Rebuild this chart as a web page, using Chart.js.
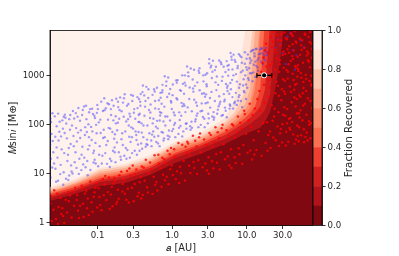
<!DOCTYPE html>
<html><head><meta charset="utf-8">
<script src="https://cdn.jsdelivr.net/npm/chart.js@4"></script>
<style>html,body{margin:0;padding:0;background:#fff}canvas{position:absolute;left:0;top:0}#w{position:relative;width:399px;height:256px}</style>
</head><body><div id="w"><canvas id="c1" width="399" height="256"></canvas><canvas id="c2" width="399" height="256"></canvas></div>
<script>
const xTickValues=[0.1,0.3,1,3,10,30];
const xTickLabels=["0.1","0.3","1.0","3.0","10.0","30.0"];
const yTickValues=[1,10,100,1000];
const yMinorTicks=[2,3,4,5,6,7,8,9,20,30,40,50,60,70,80,90,200,300,400,500,600,700,800,900,2000,3000,4000,5000,6000,7000,8000];
const cbarTicks=[0,0.2,0.4,0.6,0.8,1];
const cbarTitle="Fraction Recovered";
const levelColors=["#7f0811","#b11319","#d22020","#f03f2e","#fb7050","#fc8d6d","#fcab8f","#fdc7b0","#fee2d5","#fff2ec"];
const contourA=[0.0231,0.05,0.108,0.233,0.505,1.09,2.36,5.09,6.9,9.45,11,12.8,15,17.4,20.4,23.8,27.7,32.3,75.5];
const level90=[5.3,7.7,13,15.6,23.8,44,67,135,316,8000,20000,20000,20000,20000,20000,20000,20000,20000,20000];
const level80=[4.8,7,11.8,14.2,20.7,40,58,112,180,460,3310,20000,20000,20000,20000,20000,20000,20000,20000];
const level70=[4.4,6.4,10.7,13,18.9,36.4,53,98,149,262,506,7300,20000,20000,20000,20000,20000,20000,20000];
const level60=[4.2,6.1,9.8,11.8,17.2,33,48,85,123,197,288,810,13000,20000,20000,20000,20000,20000,20000];
const level50=[4,5.8,8.9,10.7,15.6,30,44,77,107,163,217,506,6650,20000,20000,20000,20000,20000,20000];
const level40=[3.8,5.3,8.1,9.8,14.2,26,40,70,93,135,171,228,506,13000,20000,20000,20000,20000,20000];
const level30=[3.47,4.8,7.4,8.9,13,23.8,36.4,61,81,112,135,171,228,506,10800,20000,20000,20000,20000];
const level20=[3.16,4.4,6.7,7.7,11.2,20.7,31.5,50.5,64,89,102,123,149,197,400,6650,20000,20000,20000];
const level10=[2.75,3.8,5.55,6.4,9.3,16.4,25,40,50.5,64,70,77,85,112,180,506,1900,17000,20000];
const planetA=[17];
const planetM=[1000];
const planetErrA=[13.6,21.5];
const bluePairs=[
[.0235,8.3],[.0412,33],[.0268,146],[.0347,5.9],[.0291,21],[.0381,104],[.0242,64],[.0316,9.7],[.0443,14.6],[.0256,27],[.0365,158],[.0301,47],[.0428,78],[.0279,6.8],[.0338,121],[.0232,39],[.0395,18],[.0284,92],[.0449,11],[.0325,57],[.0249,169],[.0358,26],[.0406,7.4],[.0273,12.5],[.0308,71],[.0437,40],[.0262,16],[.0372,137],[.0239,112],[.0331,31],[.0389,52],[.0297,166],[.0418,128],[.0352,10.6],[.0237,20],
[.0463,10],[.0781,37],[.0554,216],[.0692,13.4],[.0517,84],[.0867,163],[.0612,24],[.0476,58],[.0738,9.2],[.0583,119],[.0833,48],[.0659,231],[.0495,17],[.0719,70],[.0896,29],[.0541,144],[.0627,35],[.0803,11.8],[.0468,188],[.0754,101],[.0571,20],[.0678,61],[.0846,208],[.0529,45],[.0643,15.3],[.0507,27],[.0771,177],[.0598,76],[.0885,16.7],[.0486,132],[.0703,240],[.0561,9.8],[.0819,89],[.0634,197],[.0745,31],
[.0938,42],[.153,18],[.112,291],[.171,63],[.102,14],[.138,125],[.0981,172],[.161,29],[.121,78],[.178,333],[.107,36],[.146,13.5],[.129,214],[.0957,98],[.167,51],[.116,23],[.142,258],[.0915,19],[.175,147],[.125,55],[.156,312],[.104,110],[.134,15.7],[.118,187],[.169,34],[.148,82],[.0992,248],[.127,26],[.163,121],[.11,67],[.174,17],[.137,46],[.0924,135],[.151,205],[.123,340],
[.193,27],[.306,173],[.231,412],[.348,39],[.214,66],[.271,21],[.187,108],[.323,72],[.248,240],[.359,330],[.206,19],[.289,55],[.224,143],[.337,24],[.262,95],[.197,197],[.298,384],[.239,33],[.353,112],[.219,278],[.277,44],[.183,76],[.315,29],[.256,128],[.343,215],[.201,355],[.283,87],[.228,23],[.33,61],[.268,165],[.209,50],[.292,300],[.244,20],[.356,155],[.189,225],
[.384,41],[.592,212],[.451,583],[.678,36],[.412,95],[.523,47],[.367,165],[.627,118],[.478,345],[.695,440],[.396,32],[.556,72],[.433,230],[.651,58],[.504,135],[.373,289],[.571,520],[.461,49],[.684,178],[.422,390],[.537,62],[.364,112],[.612,44],[.489,196],[.663,310],[.405,620],[.548,105],[.441,35],[.639,83],[.513,255],[.391,68],[.583,470],[.467,38],[.689,152],[.378,415],
[.752,68],[1.17,322],[.883,905],[1.36,57],[.806,145],[1.03,81],[.721,263],[1.24,176],[.94,528],[1.39,670],[.777,52],[1.09,107],[.856,362],[1.29,93],[.987,206],[.733,451],[1.13,790],[.905,75],[1.33,275],[.829,610],[1.06,98],[.714,172],[1.21,64],[.961,300],[1.31,483],[.794,960],[1.08,154],[.87,59],[1.26,123],[1.01,395],[.763,115],[1.15,710],[.92,56],[1.37,234],[.741,640],
[1.52,103],[2.33,495],[1.77,1380],[2.72,88],[1.61,222],[2.06,127],[1.44,420],[2.48,268],[1.88,825],[2.79,1030],[1.55,82],[2.18,168],[1.71,565],[2.58,142],[1.97,318],[1.47,710],[2.26,1240],[1.81,113],[2.66,430],[1.65,960],[2.12,150],[1.42,262],[2.41,98],[1.92,465],[2.62,755],[1.58,1510],[2.15,240],[1.74,92],[2.52,190],[2.01,610],[1.5,178],[2.3,1120],[1.84,85],[2.75,365],[1.48,1000],
[3.04,165],[4.62,770],[3.51,1990],[5.37,140],[3.2,345],[4.08,200],[2.88,660],[4.9,415],[3.73,1280],[5.48,1560],[3.09,133],[4.31,262],[3.39,880],[5.09,220],[3.9,500],[2.93,1100],[4.47,1850],[3.58,178],[5.24,665],[3.27,1450],[4.19,235],[2.84,410],[4.77,155],[3.8,720],[5.16,1170],[3.13,2140],[4.26,375],[3.44,145],[4.98,295],[3.96,945],[2.98,280],[4.55,1690],[3.64,138],[5.42,560],[3.33,1580],
[5.9,255],[8.33,1160],[6.62,2640],[9.72,330],[6.1,520],[7.61,305],[5.62,985],[8.9,620],[7.03,1880],[9.91,2180],[5.98,240],[7.92,395],[6.41,1320],[9.26,450],[7.34,745],[5.71,1620],[8.1,2500],[6.78,270],[9.51,1000],[6.25,2090],[7.77,360],[5.53,615],[8.62,225],[7.15,1060],[9.38,1720],[6.04,2850],[7.86,560],[6.53,210],[9.05,835],[7.48,1400],[5.79,420],[8.44,2350],[6.9,290],[9.84,1470],[6.33,810],
[10.4,870],[12.7,2450],[11.3,3050],[14.9,3350],[10.1,560],[13.3,1560],[11.9,760],[16.2,2780],[10.7,1400],[15.4,1910],[12.1,3300],[13.9,2050],[11.5,1100],[17.3,3150],[14.1,1240],[10.9,2230],[16.8,2170],[12.9,930],[18.4,2600],[15.8,3480],[11.1,1780],[13.1,3420],[14.6,2700],[12.4,1650],[17.9,3600],
[35,6200],[41,3300],[28,4300],[46,2600],[33,1700],[52,5100],[38,7400],[30,2800],[44,1300],[24,3600],[58,3700],[26,5400]];
const blueMorePairs=[
[.0247,13.2],[.0296,7.1],[.0344,82],[.0402,24],[.0251,46],[.0363,67],[.0432,155],[.0283,34],[.0321,15],[.0378,7.8],[.0234,132],[.0417,9.1],[.0272,56],[.0311,113],[.0353,143],[.0455,95],[.0481,36],[.0523,13],[.0586,53],[.0622,155],[.0665,21],[.0711,128],[.0767,55],[.0512,170],[.0549,68],[.0607,11.7],[.0684,88],[.0729,18],[.0794,205],[.0852,72],[.0877,26],[.0906,150],[.0945,16],[.0973,66],[.101,205],[.105,24],[.109,125],[.114,16],[.119,53],[.124,195],[.131,38],[.136,270],[.141,85],[.147,20],[.152,155],[.158,70],[.164,240],[.17,27],[.176,105],[.182,43],[.188,290],[.195,130],[.203,22],[.21,185],[.218,38],[.226,340],[.235,72],[.242,115],[.251,30],[.259,260],[.266,56],[.274,145],[.281,400],[.29,26],[.3,82],[.31,205],[.32,130],[.332,48],[.342,360],[.354,70],[.365,29],[.375,240],[.388,105],[.399,455],[.41,55],[.425,150],[.438,300],[.452,40],[.465,95],[.48,520],[.495,66],[.51,175],[.528,36],[.545,400],[.56,130],[.575,56],[.59,300],[.605,90],[.625,560],[.645,41],[.66,205],[.68,120],[.7,350],[.72,70],[.74,500],[.765,47],[.785,230],[.81,95],[.835,750],[.86,145],[.885,50],[.91,420],[.935,120],[.97,280],[.995,73],[1.02,650],[1.05,175],[1.1,55],[1.14,340],[1.18,800],[1.23,85],[1.27,500],[1.32,150],[1.36,1000],[1.41,72],[1.46,240],[1.51,620],[1.56,105],[1.63,1150],[1.69,330],[1.76,78],[1.83,185],[1.9,540],[1.96,1300],[2.03,115],[2.09,280],[2.17,720],[2.24,88],[2.32,1400],[2.4,185],[2.5,420],[2.6,1000],[2.69,130],[2.8,270],[2.9,600],[3,105],[3.12,1750],[3.22,220],[3.35,460],[3.46,1180],[3.6,125],[3.72,300],[3.85,1500],[4,165],[4.13,640],[4.25,2000],[4.4,290],[4.58,150],[4.72,940],[4.88,1500],[5.05,320],[5.2,190],[5.35,1950],[5.5,480],[5.68,1300],[5.85,210],[6,700],[6.2,2400],[6.4,360],[6.6,1000],[6.85,2050],[7.1,440],[7.3,250],[7.55,1550],[7.8,2700],[8.05,660],[8.3,300],[8.55,1800],[8.8,1250],[9.1,480],[9.4,2950],[9.7,650],[10,1300],[10.3,2650],[10.6,800],[11,1100],[11.4,2000],[11.8,3200],[12.2,1150],[12.6,2800],[13,1900],[13.4,3500],[13.9,1450],[14.4,2250],[15,2800],[15.7,3600],[16.4,1700],[17,2500],[17.7,2000],[18.2,3000]];
const redPairs=[
[.0243,1.07],[.0411,2.72],[.0289,3.88],[.0346,1.36],[.0257,1.83],[.0471,4.31],[.0318,3.16],[.0234,2.45],[.0392,1.61],[.0277,1.18],[.0359,.98],[.0263,4.55],[.0428,3.55],[.0301,2.08],[.0375,2.91],[.0238,3.45],[.0449,1.26],[.0328,1.49],[.0294,.93],[.0486,2.2],[.0404,4.1],[.0337,1.95],
[.0527,2.87],[.0763,1.42],[.0612,5.63],[.0889,3.37],[.0548,1.73],[.0705,4.42],[.0968,6.35],[.0584,2.21],[.0831,2.58],[.0651,1.29],[.0936,5.04],[.0679,3.92],[.0502,5.1],[.0798,6.82],[.0566,1.24],[.0741,3.1],[.0857,1.66],[.0624,4.95],[.0993,2.02],[.0721,1.95],[.0909,4.15],[.0534,3.64],[.0638,2.42],
[.106,3.31],[.159,2.14],[.124,5.97],[.187,4.66],[.113,1.78],[.142,8.3],[.171,7.06],[.131,2.83],[.196,9.2],[.103,4.97],[.151,3.72],[.118,7.7],[.178,2.39],[.137,4.18],[.164,6.14],[.109,2.27],[.146,1.88],[.192,3.05],[.127,8.85],[.155,5.33],[.183,2.65],[.121,3.6],[.168,8.1],
[.215,4.28],[.318,9.75],[.243,2.92],[.367,6.66],[.267,12.6],[.226,7.35],[.343,3.42],[.289,5.12],[.391,13.9],[.208,10.9],[.304,2.73],[.254,4.9],[.33,12.1],[.232,3.87],[.378,8.44],[.275,8.95],[.218,6.08],[.357,4.03],[.296,14.6],[.248,11.2],[.315,6.1],[.385,3.1],[.262,2.55],
[.427,7.1],[.633,4.52],[.505,16.7],[.752,9.4],[.461,5.26],[.58,23.4],[.696,12.9],[.415,13.3],[.544,3.83],[.781,19.6],[.483,10.2],[.615,6.71],[.718,5.36],[.443,19.1],[.566,8.55],[.664,15.8],[.522,12],[.798,7.3],[.403,3.62],[.651,24.2],[.592,5.9],[.474,4.1],[.735,21],
[.843,8.61],[1.27,13.7],[.962,33],[1.48,7.2],[1.08,21.8],[.892,6.05],[1.36,38.5],[1.16,11.1],[.81,16.4],[1.55,26.3],[1.02,9.33],[1.21,42],[.925,24.7],[1.42,17.9],[1.12,7.75],[.865,28.9],[1.31,10.1],[.987,14.6],[1.59,44.1],[1.06,31.2],[1.24,6.4],[.94,12.2],[1.51,35],
[1.68,14.3],[2.44,26.8],[1.89,58.6],[2.91,11.5],[2.11,35.4],[1.75,10.2],[2.67,49.3],[2.23,18.7],[1.63,41],[3.06,21.3],[1.97,12.9],[2.36,65],[1.83,29.5],[2.78,16],[2.15,9.7],[1.71,23.9],[3.15,66.8],[2.03,46.7],[2.55,13.4],[1.93,17.2],[2.85,38.2],[2.29,55],[3.1,9.9],
[3.41,17.8],[4.87,39.2],[3.79,88],[5.83,14.6],[4.23,52.7],[3.55,12.6],[5.33,76],[4.48,27.1],[3.28,61],[6.12,31],[3.97,16.5],[4.71,98],[3.64,43.5],[5.55,22.1],[4.33,12.1],[3.46,35.6],[6.31,101],[4.06,69.3],[5.09,19.4],[3.88,24.8],[5.71,57.7],[4.59,83],[6.22,13],
[6.83,21.4],[9.72,64.1],[7.56,145],[11.7,19.2],[8.44,82.8],[7.09,16.3],[10.6,121],[8.97,37.9],[6.55,95],[12.3,47.5],[7.93,24.7],[9.36,162],[7.31,68.2],[11.1,29.3],[8.66,15.7],[6.94,54.3],[12.8,210],[8.13,108],[10.2,26.5],[7.75,32.8],[11.4,88.7],[9.18,190],[12.6,24.3],[10.9,265],[11.9,155],
[13.4,30.2],[15.7,22.9],[14.3,72.5],[17.8,41.6],[16.5,105],[18.9,29],[13.8,330],[15.1,190],[16.9,640],[14.7,480],[19.3,61],[17.2,280],[15.5,1180],[18.2,1520],[16.1,1780],[19.7,800],[17.5,3250],[18.6,110],[19.1,2900],[16.7,2300],[18,4400],[19.5,370],[17,900],
[20.7,33.2],[24.3,47.6],[27.9,66],[22.1,118],[30.6,158],[25.6,91],[21.4,245],[28.8,312],[23.4,208],[31.4,470],[26.7,385],[20.2,560],[29.7,42.8],[24.9,740],[22.8,920],[27.1,1190],[31.1,1430],[21.9,1850],[25.2,2240],[30.1,2610],[23.7,3380],[28.2,4120],[26.1,5260],[20.9,6150],[31.8,7500],[29.1,6890],[22.4,4850],[24.6,2950],[27.5,1690],[21.1,1040],[30.4,830],[25.9,610],[23.1,145],[28.5,81],[20.4,72],[26.4,176],[31.7,224],[22.6,54],[29.4,520],[24.1,430],[27.7,2020],[23.9,1310],[21.7,3750],[30.9,3020],[25.4,6600],[28.9,5100],[26.9,36.5],[22.9,7800],[20.5,1600],[29.9,101],
[33.2,37.1],[41.7,62.4],[36.5,129],[45.3,49],[34.6,205],[39.8,283],[47.1,95],[32.4,418],[43.2,356],[37.6,590],[46.2,672],[35.3,860],[40.9,1075],[33.9,1280],[44.4,1540],[38.7,1960],[47.7,2380],[32.8,2710],[42.3,3190],[36.9,3900],[45.9,4590],[34.2,5420],[41.1,6300],[39.1,7150],[43.8,7920],[37.2,84],[46.7,166],[33.6,71],[40.3,112],[35.8,44.3],[44.9,232],[38.2,135],[42.9,506],[32.1,780],[47.3,945],[36.1,1690],[41.4,2140],[34.9,3420],[45.1,4900],[39.4,6900],[33.1,5800],[43.5,40.1],[37.9,78],[46.4,330],[35.5,1180],[40.6,2480],[42.1,800],[38.9,455],[44.1,640],[32.7,150],[47.9,58],[36.7,2900],[41,4300],[34.4,106],[45.6,1420],
[49.3,45.6],[63.1,68.7],[55.4,122],[71.2,52.3],[52.1,194],[59.6,263],[68.4,98],[50.2,401],[65.3,342],[57.2,549],[73.6,615],[53.7,890],[61.4,1020],[48.8,1230],[69.7,1470],[56.3,1810],[74.1,2290],[51.5,2630],[64.2,3050],[58.8,3670],[72.3,4430],[54.9,5180],[66.8,6040],[60.5,6720],[70.4,7660],[49.9,87],[62.7,158],[53.1,60.2],[67.6,116],[58.1,43.4],[74.8,215],[50.8,138],[61.9,480],[56.9,735],[72.9,980],[48.3,1600],[65.9,2040],[54.2,3310],[69.1,4780],[59.2,7050],[51.1,5560],[64.7,47.1],[57.7,79.3],[70.9,300],[52.9,1120],[63.6,2550],[68.9,770],[55.9,430],[73.1,660],[49.6,169],[60.9,55.5],[66.3,2780],[53.4,4100],[71.8,105],[48.6,1350],[62.3,845],[74.4,3500],[56.5,242],[67.2,1900],[51.8,366]];
const asPoints=(xs,ys)=>xs.map((x,i)=>({x,y:ys[i]}));
const pairPoints=p=>p.map(([x,y])=>({x,y}));
const contourLevels=[level90,level80,level70,level60,level50,level40,level30,level20,level10];
const axisFont={family:"'DejaVu Sans'",size:8.6};
const titleFont={family:"'DejaVu Sans'",size:9.8};
const txt="#262626";
const datasets=[];
contourLevels.forEach((lvl,i)=>datasets.push({data:asPoints(contourA,lvl),showLine:true,borderWidth:0,pointRadius:0,fill:'start',backgroundColor:levelColors[8-i],order:20-i}));
datasets.push({data:pairPoints(bluePairs.concat(blueMorePairs)),pointRadius:1.2,pointBorderWidth:0,pointBackgroundColor:'rgba(60,60,255,0.48)',order:5});
datasets.push({data:pairPoints(redPairs),pointRadius:1.25,pointBorderWidth:0,pointBackgroundColor:'rgba(255,0,0,0.8)',order:4});
datasets.push({data:planetErrA.map(x=>({x,y:planetM[0]})),showLine:true,borderColor:'#000',borderWidth:1.3,pointStyle:'line',rotation:90,pointRadius:2.4,pointBorderColor:'#000',pointBorderWidth:1.2,order:2});
datasets.push({data:asPoints(planetA,planetM),pointRadius:2.6,pointBackgroundColor:'#000',pointBorderColor:'#fff',pointBorderWidth:1,order:1});
const frame={id:'frame',afterDraw(c){const a=c.chartArea,x=c.ctx;x.save();x.strokeStyle='#000';x.lineWidth=.8;x.strokeRect(a.left,a.top,a.right-a.left,a.bottom-a.top);x.restore();}};
const paperBg={id:'plotBg',beforeDraw(c){const a=c.chartArea,x=c.ctx;x.save();x.fillStyle=levelColors[9];x.fillRect(a.left,a.top,a.right-a.left,a.bottom-a.top);x.restore();}};
const cbarLabel={id:'cbarLabel',afterDraw(c){const a=c.chartArea,x=c.ctx;x.save();x.translate(349,(a.top+a.bottom)/2);x.rotate(-Math.PI/2);x.font="10.3px 'DejaVu Sans'";x.fillStyle=txt;x.textAlign='center';x.textBaseline='middle';x.fillText(cbarTitle,0,0);x.restore();}};
new Chart(document.getElementById('c1'),{type:'scatter',data:{datasets},plugins:[paperBg,frame],options:{
 responsive:false,animation:false,events:[],
 layout:{padding:{left:0,top:30.5,right:86.5,bottom:0}},
 plugins:{legend:{display:false},tooltip:{enabled:false}},
 scales:{
  x:{type:'logarithmic',min:0.0231,max:75.5,
   afterBuildTicks:s=>{s.ticks=xTickValues.map(value=>({value}))},
   afterFit:s=>{s.height=30.5},
   ticks:{autoSkip:false,maxRotation:0,font:axisFont,color:txt,padding:2,callback:(v)=>xTickLabels[xTickValues.indexOf(v)]},
   grid:{drawOnChartArea:false,tickLength:3.5,tickColor:'#000',tickWidth:.8},border:{color:'#000',width:.8},
   title:{display:true,text:'𝑎 [AU]',font:titleFont,color:txt,padding:{top:0,bottom:2}}},
  y:{type:'logarithmic',min:0.87,max:8200,position:'left',
   afterBuildTicks:s=>{s.ticks=yTickValues.map(value=>({value}))},
   afterFit:s=>{s.width=50},
   ticks:{autoSkip:false,font:axisFont,color:txt,padding:2,callback:v=>String(v)},
   grid:{drawOnChartArea:false,tickLength:3.5,tickColor:'#000',tickWidth:.8},border:{color:'#000',width:.8},
   title:{display:true,text:'𝑀sin𝑖 [M⊕]',font:titleFont,color:txt,padding:{top:8,bottom:0}}},
  yMinor:{type:'logarithmic',min:0.87,max:8200,position:'left',
   afterBuildTicks:s=>{s.ticks=yMinorTicks.map(value=>({value}))},
   afterFit:s=>{s.width=0},
   ticks:{display:false},
   grid:{drawOnChartArea:false,tickLength:2,tickColor:'#000',tickWidth:.6},border:{display:false}}
 }}});
new Chart(document.getElementById('c2'),{type:'bar',data:{labels:[''],datasets:levelColors.map(c=>({data:[0.1],backgroundColor:c,borderWidth:0,barPercentage:1,categoryPercentage:1,stack:'s'}))},plugins:[frame,cbarLabel],options:{
 responsive:false,animation:false,events:[],
 layout:{padding:{left:313,top:30.5,right:40,bottom:30.5}},
 plugins:{legend:{display:false},tooltip:{enabled:false}},
 scales:{
  x:{stacked:true,display:false},
  y:{stacked:true,min:0,max:1,position:'right',
   afterBuildTicks:s=>{s.ticks=cbarTicks.map(value=>({value}))},
   afterFit:s=>{s.width=37},
   ticks:{font:axisFont,color:txt,padding:2,callback:v=>v.toFixed(1)},
   grid:{drawOnChartArea:false,tickLength:3.5,tickColor:'#000',tickWidth:.8},border:{color:'#000',width:.8}}
 }}});
</script></body></html>
